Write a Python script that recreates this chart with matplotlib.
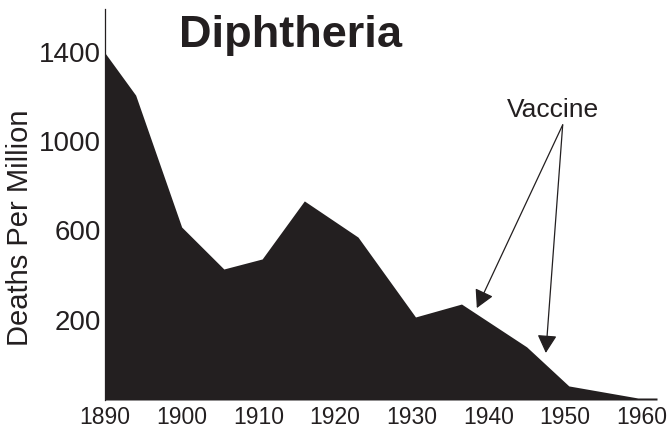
import matplotlib
matplotlib.use("Agg")
import matplotlib.pyplot as plt

# Data
years = [1890, 1894, 1900, 1905.5, 1910.5, 1916, 1923, 1930.5, 1936.5, 1945, 1950.5, 1959.5, 1962]
deaths = [1395, 1206, 615, 427, 472, 732, 570, 212, 270, 78, -97, -151, -151]
tick_years = [1890, 1900, 1910, 1920, 1930, 1940, 1950, 1960]
tick_values = [200, 600, 1000, 1400]
title = "Diphtheria"
ylabel = "Deaths Per Million"
note = "Vaccine"
arrow_targets = [(1938.5, 252), (1947.5, 51)]
arrow_source = (1949.7, 1073)

FONT = "Liberation Sans"
INK = "#231f20"
Y0, Y1 = -160, 1592

fig = plt.figure(figsize=(6.69, 4.28), dpi=100)
ax = fig.add_axes([105 / 669, 1 - 400 / 428, (657 - 105) / 669, (400 - 9) / 428])

ax.fill_between(years, deaths, Y0, color=INK, linewidth=0)
ax.set_xlim(1890, 1962)
ax.set_ylim(Y0, Y1)

for s in ["top", "right", "bottom"]:
    ax.spines[s].set_visible(False)
ax.spines["left"].set_color(INK)
ax.spines["left"].set_linewidth(0.9)

ax.set_xticks(tick_years)
ax.set_xticklabels([str(t) for t in tick_years], fontfamily=FONT, fontsize=16.5, color=INK)
ax.set_yticks(tick_values)
ax.set_yticklabels([str(t) for t in tick_values], fontfamily=FONT, fontsize=20, color=INK)
ax.tick_params(axis="x", length=0, pad=4)
ax.tick_params(axis="y", length=0, pad=3)

fig.text(290 / 669, 1 - 47 / 428, title, fontfamily=FONT, fontweight="bold",
         fontsize=32.5, color=INK, ha="center", va="baseline")
fig.text(20 / 669, 1 - 228 / 428, ylabel, fontfamily=FONT, fontsize=21,
         color=INK, rotation=90, ha="center", va="center")
fig.text(553 / 669, 1 - 117 / 428, note, fontfamily=FONT, fontsize=19,
         color=INK, ha="center", va="baseline")

for tx, ty in arrow_targets:
    ax.annotate("", xy=(tx, ty), xytext=arrow_source,
                arrowprops=dict(arrowstyle="-|>,head_length=0.55,head_width=0.3",
                                mutation_scale=20, color=INK, lw=0.9,
                                shrinkA=0, shrinkB=0),
                annotation_clip=False)

fig.savefig("out.png", dpi=100)
